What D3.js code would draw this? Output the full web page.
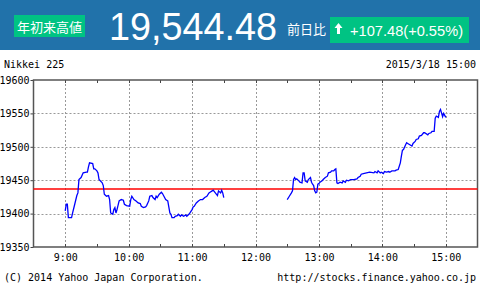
<!DOCTYPE html>
<html><head><meta charset="utf-8">
<script src="https://cdn.jsdelivr.net/npm/d3@7"></script>
<style>
html,body{margin:0;padding:0;background:#fff;}
svg{display:block;}
</style></head>
<body>
<script>
// ---- data ----
const title = "Nikkei 225";
const dateLabel = "2015/3/18 15:00";
const badgeLabel = "年初来高値";
const priceLabel = "19,544.48";
const changeCaption = "前日比";
const changeLabel = "+107.48(+0.55%)";
const prevClose = 19437.00;
const yTicks = [19350, 19400, 19450, 19500, 19550, 19600];
const xTickLabels = ["9:00","10:00","11:00","12:00","13:00","14:00","15:00"];
const xDomain = ["8:30","15:30"];
const footerLeft = "(C) 2014 Yahoo Japan Corporation.";
const footerRight = "http://stocks.finance.yahoo.co.jp";

const amTimes = ["9:00","9:01","9:02","9:03","9:06","9:07","9:09","9:11","9:12","9:13","9:15","9:17","9:20","9:21","9:22","9:23","9:26","9:27","9:28","9:30","9:31","9:32","9:35","9:36","9:37","9:39","9:41","9:42","9:43","9:45","9:46","9:47","9:48","9:49","9:51","9:53","9:55","9:56","9:58","10:01","10:02","10:03","10:05","10:07","10:09","10:11","10:12","10:14","10:16","10:17","10:19","10:20","10:22","10:23","10:25","10:26","10:27","10:29","10:31","10:32","10:34","10:35","10:37","10:39","10:40","10:41","10:43","10:44","10:46","10:47","10:49","10:50","10:52","10:54","10:55","10:57","10:58","11:00","11:01","11:02","11:04","11:06","11:08","11:10","11:12","11:14","11:16","11:17","11:19","11:20","11:22","11:24","11:25","11:27","11:28","11:29","11:30"];
const amValues = [19404,19414,19414,19394,19394,19401,19414,19427,19431,19451,19454,19461,19462,19462,19470,19476,19475,19467,19467,19464,19461,19451,19446,19442,19429,19426,19427,19421,19401,19399,19406,19409,19401,19406,19419,19421,19420,19414,19412,19411,19421,19426,19421,19419,19416,19415,19411,19409,19410,19412,19419,19426,19427,19424,19421,19426,19424,19429,19432,19430,19424,19421,19419,19401,19399,19394,19394,19396,19397,19399,19396,19398,19396,19398,19396,19399,19401,19406,19410,19411,19416,19419,19421,19421,19424,19426,19431,19432,19434,19435,19431,19427,19434,19431,19435,19431,19424];

const pmTimes = ["12:30","12:32","12:34","12:35","12:36","12:37","12:38","12:39","12:41","12:42","12:44","12:45","12:46","12:47","12:49","12:50","12:52","12:53","12:54","12:55","12:56","12:57","12:58","12:59","13:00","13:01","13:03","13:04","13:06","13:08","13:09","13:11","13:12","13:14","13:15","13:16","13:17","13:18","13:20","13:22","13:23","13:25","13:26","13:28","13:30","13:33","13:36","13:37","13:39","13:40","13:42","13:45","13:48","13:52","13:53","13:55","13:56","13:58","13:59","14:01","14:02","14:04","14:06","14:07","14:09","14:12","14:13","14:15","14:17","14:18","14:19","14:20","14:22","14:23","14:24","14:26","14:28","14:29","14:31","14:32","14:34","14:35","14:37","14:39","14:40","14:43","14:44","14:46","14:47","14:49","14:50","14:51","14:53","14:54","14:55","14:57","14:58","15:00"];
const pmValues = [19421,19426,19431,19434,19451,19454,19451,19452,19449,19447,19446,19461,19461,19449,19447,19451,19454,19447,19444,19442,19434,19431,19432,19444,19445,19447,19449,19451,19454,19456,19461,19462,19464,19464,19466,19467,19446,19445,19447,19446,19449,19447,19450,19449,19451,19451,19452,19454,19456,19459,19460,19461,19462,19461,19463,19461,19464,19461,19462,19460,19463,19462,19463,19462,19464,19464,19465,19466,19476,19486,19495,19496,19503,19506,19505,19503,19501,19505,19508,19511,19512,19516,19517,19521,19521,19518,19520,19521,19523,19523,19543,19546,19544,19553,19556,19545,19550,19544];

// ---- helpers ----
const toMin = s => { const [h,m] = s.split(":").map(Number); return h*60+m; };
const W = 480, H = 290;
const svg = d3.select("body").append("svg").attr("width", W).attr("height", H);

// header
svg.append("rect").attr("x",0).attr("y",0).attr("width",W).attr("height",50).attr("fill","#2172aa");
svg.append("rect").attr("x",14).attr("y",15).attr("width",71).attr("height",22).attr("fill","#00c383");
svg.append("text").attr("x",49.5).attr("y",31.5).attr("text-anchor","middle")
  .attr("font-family","'Noto Sans CJK JP'").attr("font-size",13).attr("fill","#fff").text(badgeLabel);
svg.append("text").attr("x",109).attr("y",39.5)
  .attr("font-family","'Liberation Sans',Arial").attr("font-size",38).attr("fill","#fff")
  .attr("textLength",168).attr("lengthAdjust","spacingAndGlyphs").text(priceLabel);
svg.append("text").attr("x",287).attr("y",34)
  .attr("font-family","'Noto Sans CJK JP'").attr("font-size",13).attr("fill","#fff").text(changeCaption);
svg.append("rect").attr("x",330).attr("y",17).attr("width",139).attr("height",26).attr("fill","#00c383");
svg.append("path").attr("d","M338.5,23 L342.5,28 L340,28 L340,34 L337,34 L337,28 L334.5,28 Z").attr("fill","#fff");
svg.append("text").attr("x",350).attr("y",35.5)
  .attr("font-family","'Liberation Sans',Arial").attr("font-size",15).attr("fill","#fff")
  .attr("textLength",113).attr("lengthAdjust","spacingAndGlyphs").text(changeLabel);

// titles
const mono = "'DejaVu Sans Mono','Liberation Mono',monospace";
svg.append("text").attr("x",4).attr("y",68).attr("font-family",mono).attr("font-size",10).attr("fill","#000").text(title);
svg.append("text").attr("x",476).attr("y",68).attr("text-anchor","end").attr("font-family",mono).attr("font-size",10).attr("fill","#000").text(dateLabel);
svg.append("text").attr("x",4).attr("y",281).attr("font-family",mono).attr("font-size",10).attr("fill","#000").text(footerLeft);
svg.append("text").attr("x",476).attr("y",281).attr("text-anchor","end").attr("font-family",mono).attr("font-size",10).attr("fill","#000").text(footerRight);

// scales
const L = 33.5, R = 477.5, T = 80, B = 247;
const x = d3.scaleLinear().domain(xDomain.map(toMin)).range([L, R]);
const y = d3.scaleLinear().domain([yTicks[0], yTicks[yTicks.length-1]]).range([B, T]);

// grid
const g = svg.append("g");
g.selectAll(".hg").data(yTicks.slice(1,-1)).join("line")
  .attr("x1",L).attr("x2",R).attr("y1",d=>Math.round(y(d))+0.5).attr("y2",d=>Math.round(y(d))+0.5)
  .attr("stroke","#999").attr("stroke-dasharray","2,2");
g.selectAll(".vg").data(xTickLabels).join("line")
  .attr("x1",d=>Math.round(x(toMin(d)))+0.5).attr("x2",d=>Math.round(x(toMin(d)))+0.5).attr("y1",T).attr("y2",B)
  .attr("stroke","#999").attr("stroke-dasharray","2,2");

// half-hour ticks on top and bottom
const halfHours = d3.range(toMin(xDomain[0])+30, toMin(xDomain[1]), 30);
g.selectAll(".tt").data(halfHours).join("line")
  .attr("x1",d=>Math.round(x(d))+0.5).attr("x2",d=>Math.round(x(d))+0.5).attr("y1",T).attr("y2",T+3)
  .attr("stroke","#444");
g.selectAll(".bt").data(halfHours).join("line")
  .attr("x1",d=>Math.round(x(d))+0.5).attr("x2",d=>Math.round(x(d))+0.5).attr("y1",B).attr("y2",B-3)
  .attr("stroke","#444");

// axes labels
const yAxis = d3.axisLeft(y).tickValues(yTicks).tickSize(3).tickFormat(d3.format("d"));
const ya = svg.append("g").attr("transform",`translate(${L},0)`).call(yAxis);
ya.select(".domain").remove();
ya.selectAll("line").attr("stroke","#444");
ya.selectAll("text").attr("font-family",mono).attr("font-size",10).attr("fill","#000").attr("dx","2");

const xAxis = d3.axisBottom(x).tickValues(xTickLabels.map(toMin)).tickSize(0)
  .tickFormat((d,i)=>xTickLabels[i]);
const xa = svg.append("g").attr("transform",`translate(0,${B})`).call(xAxis);
xa.select(".domain").remove();
xa.selectAll("text").attr("font-family",mono).attr("font-size",10).attr("fill","#000").attr("dy","1.05em");

// frame
svg.append("rect").attr("x",L).attr("y",T).attr("width",R-L).attr("height",B-T)
  .attr("fill","none").attr("stroke","#555").attr("stroke-width",1.5);

// previous close line
svg.append("line").attr("x1",L).attr("x2",R).attr("y1",y(prevClose)).attr("y2",y(prevClose))
  .attr("stroke","#ff0000").attr("stroke-width",1.5);

// price lines
const line = d3.line().x(d=>x(toMin(d[0]))).y(d=>y(d[1]));
[[amTimes,amValues],[pmTimes,pmValues]].forEach(([ts,vs])=>{
  svg.append("path").datum(ts.map((t,i)=>[t,vs[i]]))
    .attr("d",line).attr("fill","none").attr("stroke","#0000ff").attr("stroke-width",1.3);
});
</script>
</body></html>
